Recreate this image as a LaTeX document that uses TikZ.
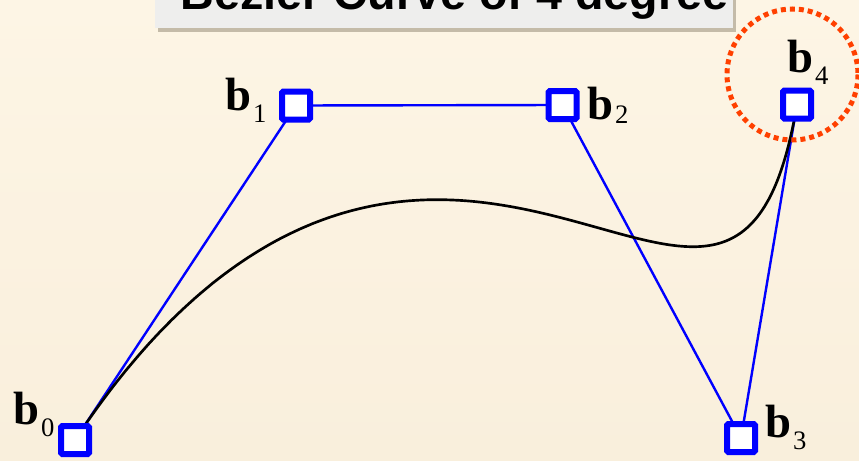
\documentclass[tikz,border=0pt]{standalone}
\usepackage{fontspec}
\setmainfont{Liberation Serif}
\newfontfamily\titlefont{Liberation Sans}
\usetikzlibrary{positioning,shadows}

\definecolor{paper}{RGB}{253,245,229}
\definecolor{paperlow}{RGB}{249,239,220}
\definecolor{ctrlblue}{RGB}{0,0,255}
\definecolor{ringred}{RGB}{255,64,0}
\definecolor{titlegray}{RGB}{238,238,237}
\definecolor{shadowtan}{RGB}{150,140,120}

\newcommand\ctrllabel[2][9pt]{{\fontsize{35}{35}\selectfont\bfseries b}\hspace{1.5pt}\raisebox{-#1}{\fontsize{20}{20}\selectfont #2}}
\newcommand\bern[5]{(1-\t)^4*#1+4*\t*(1-\t)^3*#2+6*\t^2*(1-\t)^2*#3+4*\t^3*(1-\t)*#4+\t^4*#5}

\begin{document}
\begin{tikzpicture}[
    x=0.75pt, y=-0.75pt,
    ctrl/.style={rectangle, draw=ctrlblue, fill=white, line width=4.5pt, minimum size=21pt, inner sep=0pt, rounded corners=1pt},
    lbl/.style={anchor=base west, inner sep=0pt},
    poly/.style={draw=ctrlblue, line width=1.8pt},
    curve/.style={draw=black, line width=2pt, line join=round},
    ring/.style={draw=ringred, line width=3.75pt, dash pattern=on 3.75pt off 3pt},
    titlebox/.style={fill=titlegray, drop shadow={shadow xshift=2pt, shadow yshift=-3pt, fill=shadowtan, opacity=0.55}},
    titletext/.style={font=\titlefont\bfseries\fontsize{35}{35}\selectfont, inner sep=0pt}
]
\useasboundingbox (0,0) rectangle (859,460);
\clip (0,0) rectangle (859,460);
\shade[top color=paper, bottom color=paperlow] (0,0) rectangle (859,460);

% title banner, cut by the top edge
\path[titlebox] (155,-40) rectangle (733,28);
\node[titletext, anchor=base] (title) at (454.5,10) {Bezier Curve of 4 degree};

% control points
\coordinate (p0) at (75,440);
\coordinate (p1) at (296,105.5);
\coordinate (p2) at (562.5,105);
\coordinate (p3) at (741,438);
\coordinate (p4) at (797,104.5);

% control polygon and curve
\draw[poly] (p0) -- (p1) -- (p2) -- (p3) -- (p4);
\draw[curve] plot[domain=0:1, samples=160, variable=\t]
    ({\bern{75}{296}{562.5}{741}{797}}, {\bern{440}{105.5}{105}{438}{104.5}});

\node[ctrl] (b0) at (p0) {};
\node[ctrl] (b1) at (p1) {};
\node[ctrl] (b2) at (p2) {};
\node[ctrl] (b3) at (p3) {};
\node[ctrl] (b4) at (p4) {};

\node[lbl] (lb0) at (13,424) {\ctrllabel{0}};
\node[lbl] (lb1) at (225,110) {\ctrllabel{1}};
\node[lbl] (lb2) at (587,119) {\ctrllabel[3pt]{2}};
\node[lbl] (lb3) at (765,437) {\ctrllabel{3}};
\node[lbl] (lb4) at (787,73) {\ctrllabel{4}};

% highlight of the end point
\draw[ring] (792.5,74.5) circle (65.5);

\end{tikzpicture}
\end{document}
